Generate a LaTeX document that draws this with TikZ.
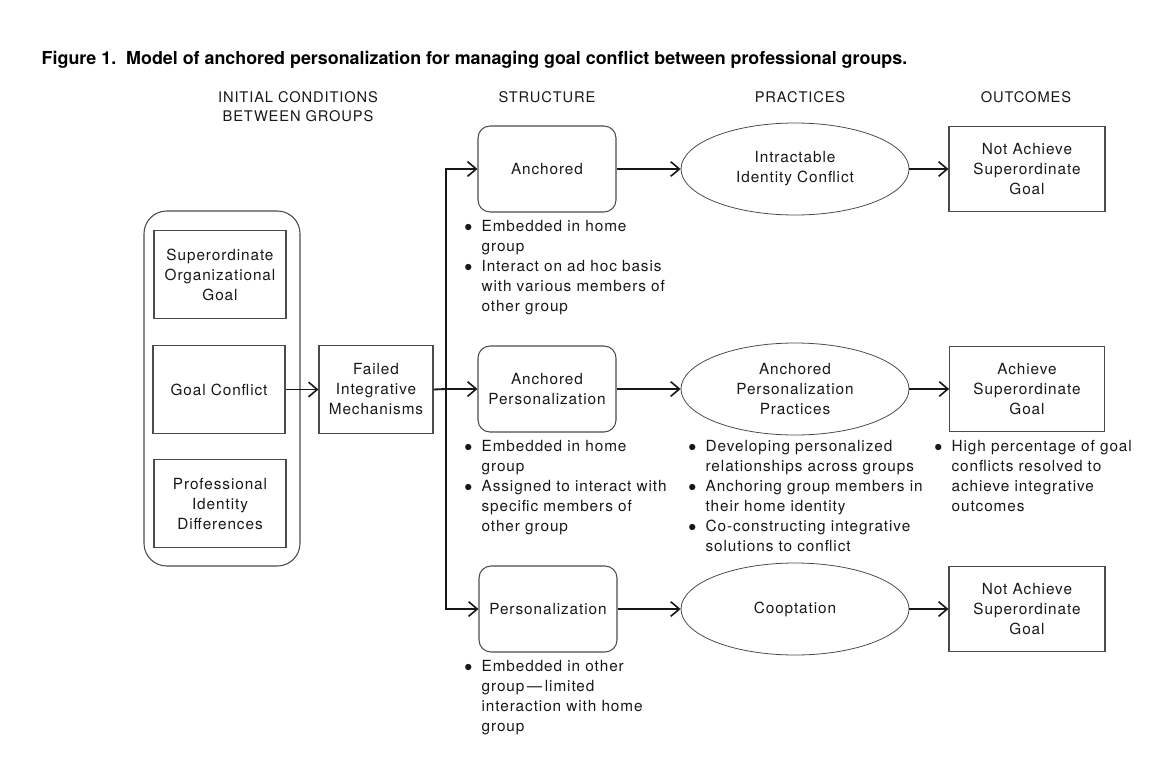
\documentclass[tikz,border=0pt]{standalone}
\usepackage{fontspec}
\setmainfont{TeX Gyre Heros}[LetterSpace=6]
\newfontfamily\headfont{TeX Gyre Heros}
\usetikzlibrary{arrows.meta,shapes.geometric}

\definecolor{ink}{RGB}{25,23,23}
\definecolor{edge}{RGB}{75,75,75}

\newcommand{\blist}[1]{\begin{tabular}{@{}l@{\hspace{7pt}}l@{}}#1\end{tabular}}
\newcommand{\bdot}{$\bullet$}

\begin{document}
\begin{tikzpicture}[x=0.75pt,y=0.75pt,yscale=-1,xscale=1,
  every node/.style={font=\fontsize{11.5}{15}\selectfont, text=ink},
  sqbox/.style={draw=edge, line width=0.8pt, align=center, inner sep=0pt, minimum width=99pt, minimum height=66pt},
  rndbox/.style={sqbox, rounded corners=9pt, minimum width=103.5pt, minimum height=64.5pt},
  oval/.style={ellipse, draw=edge, line width=0.6pt, align=center, inner sep=0pt, minimum width=171pt, minimum height=69pt},
  flow/.style={draw=ink, line width=1.4pt, -{Straight Barb[length=6.5pt,width=11pt,line width=1.2pt]}},
  link/.style={draw=ink, line width=1.4pt},
  bullets/.style={anchor=north west, inner sep=0pt, align=left},
  colhead/.style={align=center, font=\fontsize{11}{14.25}\selectfont}
]
\useasboundingbox (0,0) rectangle (1167,778);

% Text Node
\node[anchor=west, text=black] (title) at (37,60) {\headfont\bfseries\fontsize{13.4}{16}\selectfont Figure 1.\ \ Model of anchored personalization for managing goal conflict between professional groups.};

% Text Node
\node[colhead] (hInit) at (298,106.5) {INITIAL CONDITIONS\\BETWEEN GROUPS};
% Text Node
\node[colhead] (hStruct) at (547,97) {STRUCTURE};
% Text Node
\node[colhead] (hPract) at (800,97) {PRACTICES};
% Text Node
\node[colhead] (hOut) at (1026,97) {OUTCOMES};

%Shape: Rounded Rect
\draw[draw=edge, line width=0.8pt, rounded corners=17pt] (144,211) rectangle (300,566);

%Shape: Rectangle
\node[sqbox] (goalSup) at (220,274.5) {Superordinate\\Organizational\\Goal};
\node[sqbox] (goalConf) at (219,389.5) {Goal Conflict};
\node[sqbox] (goalProf) at (220,503.5) {Professional\\Identity\\Differences};
\node[sqbox, minimum width=85.5pt] (failed) at (376,389.5) {Failed\\Integrative\\Mechanisms};

%Shape: Rounded Rect
\node[rndbox] (anch) at (547,169) {Anchored};
\node[rndbox] (anchPers) at (547,389) {Anchored\\Personalization};
\node[rndbox] (pers) at (548,609) {Personalization};

%Shape: Ellipse
\node[oval] (intract) at (795,169) {Intractable\\Identity Conflict};
\node[oval] (anchPract) at (795,389) {Anchored\\Personalization\\Practices};
\node[oval] (coopt) at (795,609) {Cooptation};

%Shape: Rectangle
\node[sqbox, minimum width=117pt, minimum height=64pt] (outNot) at (1027,169) {Not Achieve\\Superordinate\\Goal};
\node[sqbox, minimum width=116pt, minimum height=64pt] (outAch) at (1027,389) {Achieve\\Superordinate\\Goal};
\node[sqbox, minimum width=117pt, minimum height=64pt] (outNotB) at (1027,609) {Not Achieve\\Superordinate\\Goal};

%Straight Lines
\coordinate (split) at (446,389);
\draw[flow] (goalConf) -- (failed);
\draw[link] (failed.east) -- (split);
\draw[flow] (split) |- (anch);
\draw[flow] (split) -- (anchPers);
\draw[flow] (split) |- (pers);

\draw[flow] (anch) -- (intract);
\draw[flow] (intract) -- (outNot);
\draw[flow] (anchPers) -- (anchPract);
\draw[flow] (anchPract) -- (outAch);
\draw[flow] (pers) -- (coopt);
\draw[flow] (coopt) -- (outNotB);

% Text Node
\node[bullets] (anchList) at (464,217) {\blist{\bdot & Embedded in home\\ & group\\ \bdot & Interact on ad hoc basis\\ & with various members of\\ & other group}};
% Text Node
\node[bullets] (anchPersList) at (464,437) {\blist{\bdot & Embedded in home\\ & group\\ \bdot & Assigned to interact with\\ & specific members of\\ & other group}};
% Text Node
\node[bullets] (persList) at (464,657) {\blist{\bdot & Embedded in other\\ & group\,---\,limited\\ & interaction with home\\ & group}};
% Text Node
\node[bullets] (practList) at (688,437) {\blist{\bdot & Developing personalized\\ & relationships across groups\\ \bdot & Anchoring group members in\\ & their home identity\\ \bdot & Co-constructing integrative\\ & solutions to conflict}};
% Text Node
\node[bullets] (outList) at (934,437) {\blist{\bdot & High percentage of goal\\ & conflicts resolved to\\ & achieve integrative\\ & outcomes}};

\end{tikzpicture}
\end{document}
